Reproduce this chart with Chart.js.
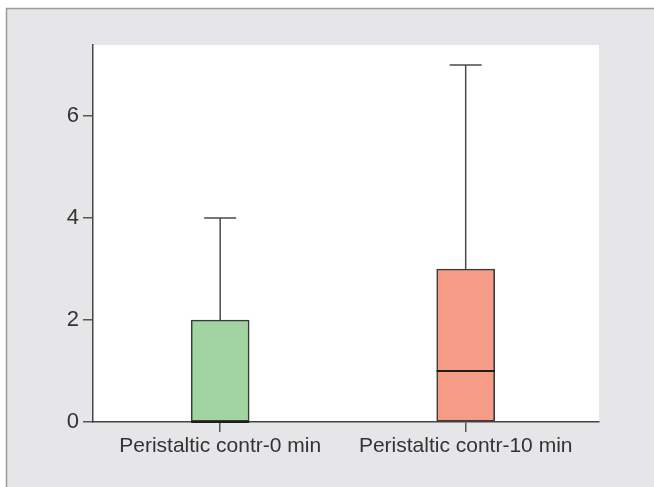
<!DOCTYPE html>
<html>
<head>
<meta charset="utf-8">
<script src="https://cdn.jsdelivr.net/npm/chart.js@4/dist/chart.umd.min.js"></script>
<style>
html,body{margin:0;padding:0;background:#fff;}
#wrap{width:654px;height:487px;position:relative;}
</style>
</head>
<body>
<div id="wrap"><canvas id="c" width="654" height="487"></canvas></div>
<script>
const categories = ["Peristaltic contr-0 min", "Peristaltic contr-10 min"];
const positions = [1, 2];
const mins = [0, 0];
const q1s = [0, 0];
const medians = [0, 1];
const q3s = [2, 3];
const maxs = [4, 7];
const boxColors = ["#a1d4a0", "#f59b86"];
const yTicks = [0, 2, 4, 6];

const bgPlugin = {
  id: 'bg',
  beforeDraw(chart) {
    const ctx = chart.ctx;
    ctx.save();
    ctx.fillStyle = '#ffffff';
    ctx.fillRect(0, 0, chart.width, chart.height);
    ctx.fillStyle = '#e6e6e8';
    ctx.fillRect(6, 8, chart.width - 6, chart.height - 8);
    ctx.strokeStyle = '#9a9a9a';
    ctx.lineWidth = 1.5;
    ctx.beginPath();
    ctx.moveTo(6.5, chart.height);
    ctx.lineTo(6.5, 8.5);
    ctx.lineTo(chart.width, 8.5);
    ctx.stroke();
    const a = chart.chartArea;
    ctx.fillStyle = '#ffffff';
    ctx.fillRect(a.left, a.top, a.right - a.left, a.bottom - a.top);
    ctx.restore();
  }
};

const whiskerPlugin = {
  id: 'whiskers',
  afterDatasetsDraw(chart) {
    const ctx = chart.ctx;
    const xs = chart.scales.x, ys = chart.scales.y;
    ctx.save();
    for (let i = 0; i < positions.length; i++) {
      const cx = xs.getPixelForValue(positions[i]);
      const capHalf = 16;
      ctx.strokeStyle = '#4a4a4a';
      ctx.lineWidth = 1.5;
      if (maxs[i] > q3s[i]) {
        const yTop = ys.getPixelForValue(maxs[i]);
        const yQ3 = ys.getPixelForValue(q3s[i]);
        ctx.beginPath();
        ctx.moveTo(cx, yQ3);
        ctx.lineTo(cx, yTop);
        ctx.moveTo(cx - capHalf, yTop);
        ctx.lineTo(cx + capHalf, yTop);
        ctx.stroke();
      }
      if (mins[i] < q1s[i]) {
        const yBot = ys.getPixelForValue(mins[i]);
        const yQ1 = ys.getPixelForValue(q1s[i]);
        ctx.beginPath();
        ctx.moveTo(cx, yQ1);
        ctx.lineTo(cx, yBot);
        ctx.moveTo(cx - capHalf, yBot);
        ctx.lineTo(cx + capHalf, yBot);
        ctx.stroke();
      }
      const bar = chart.getDatasetMeta(0).data[i];
      const half = bar.width / 2;
      const ym = ys.getPixelForValue(medians[i]);
      ctx.strokeStyle = '#1e1e1e';
      ctx.lineWidth = 2;
      ctx.beginPath();
      ctx.moveTo(cx - half, ym);
      ctx.lineTo(cx + half, ym);
      ctx.stroke();
    }
    ctx.restore();
  }
};

const xFont = { family: "'Liberation Sans', Arial, sans-serif", size: 21 };
const yFont = { family: "'Liberation Sans', Arial, sans-serif", size: 22 };

new Chart(document.getElementById('c'), {
  type: 'bar',
  data: {
    datasets: [{
      data: positions.map((p, i) => ({ x: p, y: [q1s[i], q3s[i]] })),
      backgroundColor: boxColors,
      borderColor: '#3a3a3a',
      borderWidth: 1.6,
      borderSkipped: false,
      barThickness: 58
    }]
  },
  options: {
    responsive: false,
    animation: false,
    events: [],
    layout: { padding: { top: 45, right: 55, left: 0, bottom: 0 } },
    plugins: { legend: { display: false }, tooltip: { enabled: false } },
    scales: {
      x: {
        type: 'linear',
        min: 0.482,
        max: 2.543,
        offset: false,
        afterBuildTicks(scale) { scale.ticks = positions.map(v => ({ value: v })); },
        afterFit(scale) { scale.height = 65; },
        ticks: {
          callback: (v) => categories[positions.indexOf(v)] || '',
          font: xFont, color: '#333333', padding: 2, maxRotation: 0, autoSkip: false
        },
        grid: { display: true, offset: false, drawOnChartArea: false, drawTicks: true, tickLength: 10, color: '#555555', lineWidth: 1.5 },
        border: { display: true, color: '#444444', width: 1.5 }
      },
      y: {
        min: 0,
        max: 7.39,
        afterBuildTicks(scale) { scale.ticks = yTicks.map(v => ({ value: v })); },
        afterFit(scale) { scale.width = 93; },
        ticks: { font: yFont, color: '#333333', padding: 4 },
        grid: { display: true, drawOnChartArea: false, drawTicks: true, tickLength: 10, color: '#555555', lineWidth: 1.5 },
        border: { display: true, color: '#444444', width: 1.5 }
      }
    }
  },
  plugins: [bgPlugin, whiskerPlugin]
});
</script>
</body>
</html>
